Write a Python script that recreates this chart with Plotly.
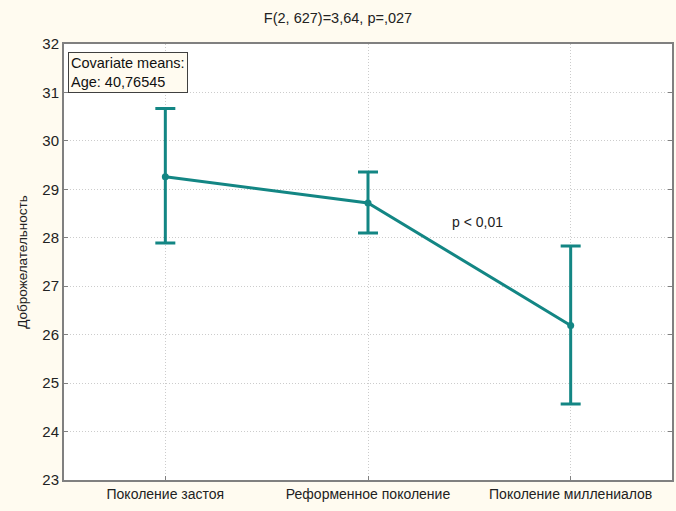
import plotly.graph_objects as go

categories = ["Поколение застоя", "Реформенное поколение", "Поколение миллениалов"]
means = [29.26, 28.72, 26.19]
upper = [30.67, 29.36, 27.83]
lower = [27.89, 28.10, 24.57]
y_ticks = [23, 24, 25, 26, 27, 28, 29, 30, 31, 32]

err_plus = [u - m for u, m in zip(upper, means)]
err_minus = [m - l for m, l in zip(means, lower)]
xidx = list(range(len(categories)))

teal = "#138684"
font = "Liberation Sans, Arial, sans-serif"

fig = go.Figure()
fig.add_trace(go.Scatter(
    x=xidx, y=means, mode="lines+markers",
    line=dict(color=teal, width=3),
    marker=dict(color=teal, size=7),
    error_y=dict(type="data", symmetric=False, array=err_plus, arrayminus=err_minus,
                 color=teal, thickness=3, width=10),
    showlegend=False,
))

fig.update_layout(
    width=676, height=511,
    paper_bgcolor="#FFFBF0", plot_bgcolor="#FFFFFF",
    margin=dict(l=64, r=4, t=44, b=31, autoexpand=False),
    font=dict(family=font, size=14, color="#222222"),
    title=dict(text="F(2, 627)=3,64, p=,027", x=0.5, xanchor="center", y=1 - 18 / 511,
               yref="container", yanchor="middle", automargin=False,
               font=dict(size=14.5, color="#222222", family=font)),
    xaxis=dict(range=[-0.5, 2.5], tickvals=xidx, ticktext=categories, automargin=False,
               showgrid=True, gridcolor="#CCCCCC", griddash="1px,2px", gridwidth=1,
               showline=True, linecolor="#808080", linewidth=2, mirror=True,
               ticks="inside", ticklen=4, tickcolor="#808080", zeroline=False,
               tickfont=dict(size=14)),
    yaxis=dict(range=[23, 32], tickvals=y_ticks, automargin=False,
               showgrid=True, gridcolor="#CCCCCC", griddash="1px,2px", gridwidth=1,
               showline=True, linecolor="#808080", linewidth=2, mirror="ticks",
               ticks="inside", ticklen=4, tickcolor="#808080", zeroline=False,
               title=dict(text="Доброжелательность", font=dict(size=13.5), standoff=12),
               tickfont=dict(size=15)),
    annotations=[
        dict(text="p < 0,01", x=1.54, y=28.33, xref="x", yref="y", showarrow=False,
             font=dict(size=14, color="#222222")),
        dict(text="Covariate means:<br>Age: 40,76545", x=0.006, y=0.981, xref="paper", yref="paper",
             xanchor="left", yanchor="top", align="left", showarrow=False,
             bgcolor="#FFFBF0", bordercolor="#404040", borderwidth=1, borderpad=2,
             font=dict(size=14.5, color="#111111")),
    ],
)

fig.write_html("out.html", config={"displayModeBar": False},
               post_script="document.body.style.margin='0';")
